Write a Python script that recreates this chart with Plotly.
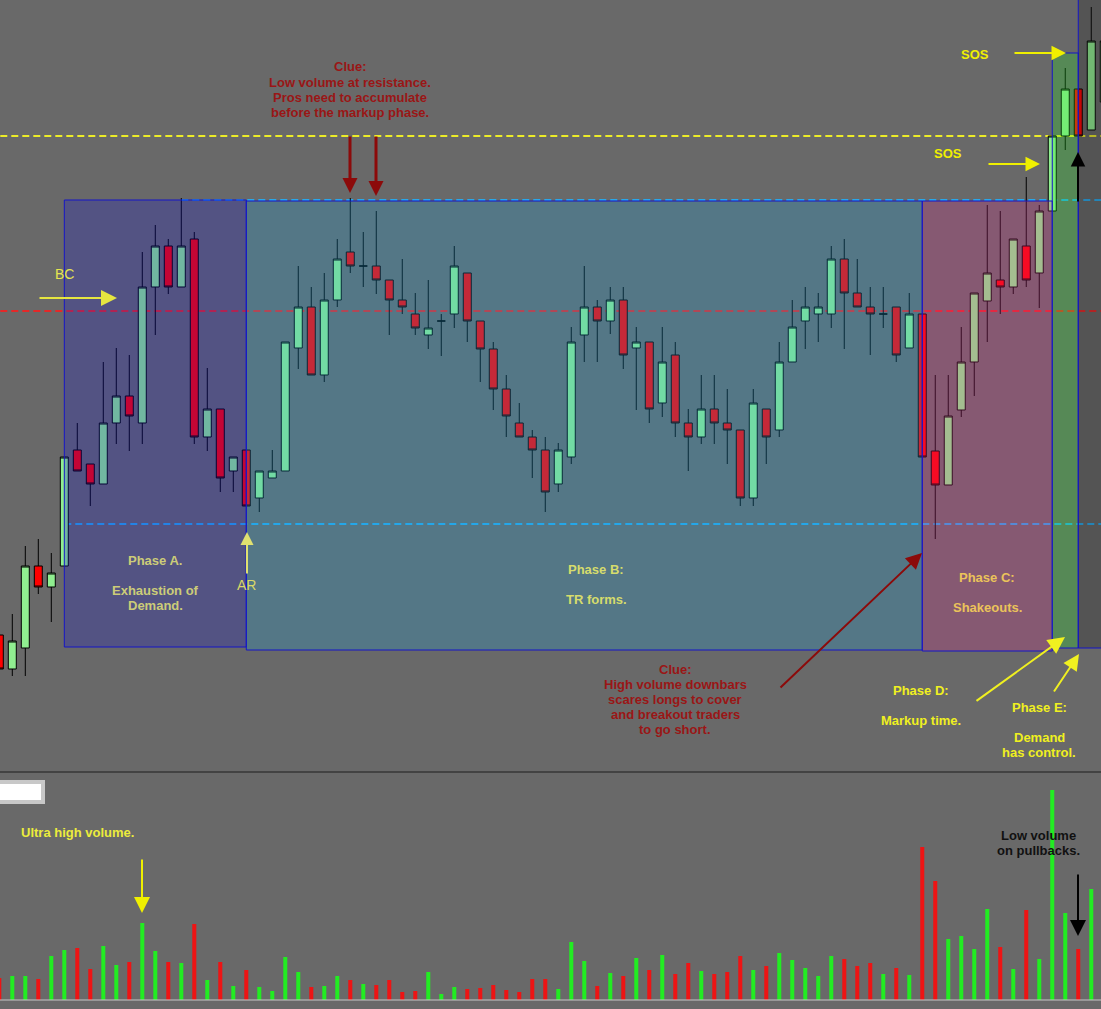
import plotly.graph_objects as go

W, H = 1101, 1009
FONT = "Liberation Sans, Arial, sans-serif"

# ---------------- data (price and volume in chart units) ----------------
bar_index = list(range(86))
open_ = [165, 131, 152, 234, 213, 234, 350, 336, 316, 377, 404, 377, 513, 554, 513, 561, 363, 391, 329, 350,
         302, 322, 329, 452, 493, 425, 500, 548, 534, 534, 520, 500, 486, 465, 479, 486, 527, 479, 451, 411,
         377, 363, 350, 316, 343, 465, 493, 479, 500, 452, 458, 397, 445, 377, 363, 391, 377, 370, 302, 391,
         370, 438, 479, 486, 486, 541, 507, 493, 486, 493, 452, 486, 349, 315, 390, 438, 499, 520, 513, 554,
         527, 589, 664, 711, 670, 698]
high = [165, 186, 254, 261, 247, 343, 377, 336, 438, 452, 445, 548, 575, 561, 602, 568, 432, 391, 343, 350,
        329, 350, 458, 534, 513, 527, 561, 602, 568, 589, 520, 541, 507, 520, 486, 554, 527, 479, 458, 425,
        397, 370, 363, 357, 473, 534, 500, 513, 513, 473, 458, 473, 458, 391, 425, 425, 411, 370, 411, 391,
        458, 500, 513, 507, 554, 561, 541, 513, 513, 493, 507, 486, 425, 425, 473, 507, 595, 589, 561, 623,
        595, 664, 732, 711, 793, 759]
low = [131, 124, 124, 206, 178, 234, 329, 294, 316, 356, 349, 356, 465, 506, 513, 356, 349, 308, 308, 294,
       288, 322, 329, 431, 425, 418, 493, 527, 513, 506, 465, 486, 465, 451, 444, 472, 458, 418, 390, 363,
       363, 322, 288, 308, 336, 438, 438, 466, 431, 390, 377, 383, 363, 329, 356, 356, 336, 294, 294, 336,
       363, 438, 451, 458, 472, 451, 493, 445, 472, 438, 452, 343, 261, 315, 383, 404, 458, 486, 506, 513,
       492, 589, 650, 664, 670, 698]
close = [131, 159, 234, 213, 227, 343, 329, 316, 377, 404, 384, 513, 554, 513, 554, 363, 391, 322, 343, 294,
         329, 329, 458, 493, 425, 500, 541, 534, 534, 520, 500, 493, 472, 472, 479, 534, 479, 451, 411, 384,
         363, 350, 308, 350, 458, 493, 479, 500, 445, 458, 391, 438, 377, 363, 391, 377, 370, 302, 397, 363,
         438, 473, 493, 493, 541, 507, 493, 486, 486, 445, 486, 343, 315, 384, 438, 507, 527, 513, 561, 520,
         589, 664, 711, 664, 759, 759]
volume = [22, 24, 24, 21, 44, 50, 52, 31, 54, 35, 38, 77, 49, 38, 37, 76, 20, 38, 14, 30,
          13, 9, 43, 28, 13, 14, 24, 20, 16, 15, 20, 8, 9, 28, 6, 13, 11, 12, 15, 10,
          8, 21, 21, 11, 58, 39, 14, 27, 24, 42, 30, 45, 26, 37, 29, 26, 28, 44, 30, 34,
          47, 40, 32, 24, 44, 41, 34, 37, 26, 32, 25, 153, 119, 61, 64, 51, 91, 53, 31, 90,
          41, 210, 87, 51, 111, None]

# horizontal levels (price units)
LEVEL_SUPPLY = 664      # yellow dashed
LEVEL_TR_TOP = 600      # cyan dashed (top of range)
LEVEL_MID = 489         # red dashed
LEVEL_TR_LOW = 276      # cyan dashed (bottom of range)

# ---------------- styles ----------------
BG = "#696969"
GREEN_BODY = "#90ee90"
RED_BODY = "#ff0000"
VOL_UP = "#22ec22"
VOL_DN = "#ee1414"
BOX_EDGE = "#1414c8"
DARK_RED = "#8c0a0a"
CLUE_TXT = "#9a1616"
YELLOW = "#f0f020"

vol_colors = [VOL_UP if c >= o else VOL_DN for o, c in zip(open_, close)]

fig = go.Figure()
fig.add_trace(go.Candlestick(
    x=bar_index, open=open_, high=high, low=low, close=close,
    increasing=dict(fillcolor=GREEN_BODY, line=dict(color="#000000", width=1)),
    decreasing=dict(fillcolor=RED_BODY, line=dict(color="#000000", width=1)),
    whiskerwidth=0, hoverinfo="skip", showlegend=False, xaxis="x", yaxis="y"))
fig.add_trace(go.Bar(
    x=bar_index, y=volume, width=0.31,
    marker=dict(color=vol_colors, line=dict(width=0)),
    hoverinfo="skip", showlegend=False, xaxis="x2", yaxis="y2"))

shapes = []
# dashed levels behind the candles
for y, x0, col in [(LEVEL_SUPPLY, -5, "#ecec28"), (LEVEL_MID, -5, "#e42828"),
                   (LEVEL_TR_TOP, 14, "#28a8ec"), (LEVEL_TR_LOW, 5, "#28a8ec")]:
    shapes.append(dict(type="line", xref="x", yref="y", x0=x0, x1=95, y0=y, y1=y, layer="below",
                       line=dict(color=col, width=2, dash="7px,4px")))

# translucent phase boxes over the candles
phase_boxes = [  # start bar, end bar, bottom, top, fill
    (5, 19, 153, 600, "rgba(21,21,213,0.25)"),
    (19, 71, 150, 599, "rgba(25,165,225,0.25)"),
    (71, 81, 149, 599, "rgba(225,45,145,0.25)"),
    (81, 83, 152, 747, "rgba(33,237,33,0.25)"),
    (83, 95, 152, 900, "rgba(25,25,25,0.25)"),
]
for x0, x1, y0, y1, fill in phase_boxes:
    shapes.append(dict(type="rect", xref="x", yref="y", x0=x0, x1=x1, y0=y0, y1=y1, layer="above",
                       fillcolor=fill, line=dict(color=BOX_EDGE, width=1)))

sep = 1 - 772 / H
shapes.append(dict(type="line", xref="paper", yref="paper", x0=0, x1=1, y0=sep, y1=sep,
                   line=dict(color="#1e1e1e", width=1)))
shapes.append(dict(type="line", xref="paper", yref="y2", x0=0, x1=1, y0=0, y1=0,
                   line=dict(color="#c8c8c8", width=1)))
shapes.append(dict(type="rect", xref="paper", yref="paper", x0=-2 / W, x1=43 / W,
                   y0=1 - 802 / H, y1=1 - 782 / H, fillcolor="#ffffff",
                   line=dict(color="#c8c8c8", width=4)))

ann = []


def px(x):
    return x / W


def py(y):
    return 1 - y / H


def text_lines(lines, cx, y0, color, step=15, size=13, bold=True):
    for i, t in enumerate(lines):
        if not t:
            continue
        ann.append(dict(xref="paper", yref="paper", x=px(cx), y=py(y0 + i * step),
                        text=f"<b>{t}</b>" if bold else t, showarrow=False,
                        xanchor="center", yanchor="middle",
                        font=dict(family=FONT, size=size, color=color)))


def arrow(x0, y0, x1, y1, color, width, size):
    ann.append(dict(xref="paper", yref="paper", x=px(x1), y=py(y1),
                    ax=x0 - x1, ay=y0 - y1, axref="pixel", ayref="pixel",
                    text="", showarrow=True, arrowhead=2, arrowsize=size,
                    arrowwidth=width, arrowcolor=color, standoff=0))


text_lines(["Clue:", "Low volume at resistance.", "Pros need to accumulate", "before the markup phase."],
           350, 67, CLUE_TXT)
arrow(350, 135, 350, 193, DARK_RED, 3, 1.0)
arrow(376, 135, 376, 196, DARK_RED, 3, 1.0)

text_lines(["BC"], 64, 274, "#e6e650", size=14, bold=False)
arrow(38, 298, 117, 298, "#e6e640", 2, 1.6)

text_lines(["AR"], 246, 585, "#d8d868", size=14, bold=False)
arrow(247, 575, 247, 532, "#e0e070", 2, 1.3)

text_lines(["Phase A.", "", "Exhaustion of", "Demand."], 155, 560, "#cccc78")
text_lines(["Phase B:", "", "TR forms."], 596, 569, "#d6dc6c")
text_lines(["Phase C:", "", "Shakeouts."], 987, 577, "#ebc35a")

text_lines(["Clue:", "High volume downbars", "scares longs to cover", "and breakout traders", "to go short."],
           675, 669, CLUE_TXT)
arrow(779, 689, 922, 553, DARK_RED, 2, 1.6)

text_lines(["Phase D:", "", "Markup time."], 921, 690, YELLOW)
arrow(975, 702, 1065, 637, YELLOW, 2, 1.7)
text_lines(["Phase E:", "", "Demand", "has control."], 1039, 707, YELLOW)
arrow(1053, 693, 1079, 654, YELLOW, 2, 1.6)

text_lines(["SOS"], 975, 54, "#f0f000")
arrow(1013, 53, 1066, 53, "#f0f000", 2, 1.45)
text_lines(["SOS"], 948, 154, "#f0f000")
arrow(987, 164, 1040, 164, "#f0f000", 2, 1.45)
arrow(1078, 203, 1078, 152, "#000000", 2, 1.45)

text_lines(["Ultra high volume."], 77, 832, "#ecec3c")
arrow(142, 858, 142, 913, "#f0f000", 2, 1.6)
text_lines(["Low volume", "on pullbacks."], 1038, 835, "#111111")
arrow(1078, 873, 1078, 936, "#000000", 2, 1.6)

split = 1 - 772 / H
hidden = dict(visible=False, showgrid=False, zeroline=False, showticklabels=False)
fig.update_layout(
    width=W, height=H, margin=dict(l=0, r=0, t=0, b=0),
    paper_bgcolor=BG, plot_bgcolor=BG, showlegend=False,
    boxgap=0.385, boxgroupgap=0,
    xaxis=dict(domain=[0, 1], range=[0.054, 84.75], anchor="y", rangeslider=dict(visible=False), **hidden),
    yaxis=dict(domain=[split, 1], range=[28, 800], anchor="x", **hidden),
    xaxis2=dict(domain=[0, 1], matches="x", anchor="y2", **hidden),
    yaxis2=dict(domain=[0, split], range=[-9, 228], anchor="x2", **hidden),
    shapes=shapes, annotations=ann,
)

fig.write_html("out.html", config={"displayModeBar": False},
               post_script="document.body.style.margin='0';document.body.style.overflow='hidden';")
